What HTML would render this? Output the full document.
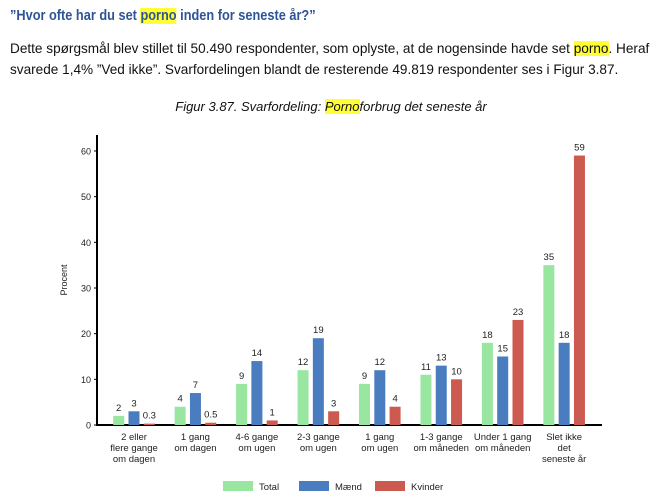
<!DOCTYPE html>
<html><head><meta charset="utf-8"><style>
body{margin:0;width:662px;height:496px;background:#fff;position:relative;overflow:hidden;font-family:"Liberation Sans",sans-serif}
.hl{background:#ffff33}
#h{position:absolute;left:10px;top:8px;font-size:14.5px;font-weight:bold;color:#2f5496;white-space:nowrap;transform:scaleX(0.88);transform-origin:0 0}
#p{position:absolute;left:10px;top:38px;font-size:13.6px;line-height:21px;color:#111;white-space:nowrap}
#cap{position:absolute;left:0;width:662px;top:99px;text-align:center;font-style:italic;font-size:13px;color:#111}
</style></head><body>
<div id="h">”Hvor ofte har du set <span class="hl">porno</span> inden for seneste år?”</div>
<div id="p">Dette spørgsmål blev stillet til 50.490 respondenter, som oplyste, at de nogensinde havde set <span class="hl">porno</span>. Heraf<br>svarede 1,4% ”Ved ikke”. Svarfordelingen blandt de resterende 49.819 respondenter ses i Figur 3.87.</div>
<div id="cap">Figur 3.87. Svarfordeling: <span class="hl">Porno</span>forbrug det seneste år</div>
<svg id="chart" width="662" height="496" style="position:absolute;left:0;top:0"></svg>
<script>
const categories=[["2 eller","flere gange","om dagen"],["1 gang","om dagen"],["4-6 gange","om ugen"],["2-3 gange","om ugen"],["1 gang","om ugen"],["1-3 gange","om måneden"],["Under 1 gang","om måneden"],["Slet ikke","det","seneste år"]];
const totalValues=[2,4,9,12,9,11,18,35];
const maendValues=[3,7,14,19,12,13,15,18];
const kvinderValues=[0.3,0.5,1,3,4,10,23,59];
const valueLabels=[["2","4","9","12","9","11","18","35"],["3","7","14","19","12","13","15","18"],["0.3","0.5","1","3","4","10","23","59"]];
const yTicks=[0,10,20,30,40,50,60];
const seriesNames=["Total","Mænd","Kvinder"];
const colors=["#99e6a0","#4a7cc0","#cc5a50"];
const NS="http://www.w3.org/2000/svg";
const svg=document.getElementById('chart');
const y=v=>425-v*4.567;
const xc=i=>134+i*61.45;
function mk(t,a,txt){const e=document.createElementNS(NS,t);for(const k in a)e.setAttribute(k,a[k]);if(txt!=null)e.textContent=txt;svg.appendChild(e);return e;}
let e;
e=mk('line',{x1:97,y1:135,x2:97,y2:426,stroke:'#000','stroke-width':2});


e=mk('line',{x1:96,y1:425,x2:602,y2:425,stroke:'#000','stroke-width':2});


yTicks.forEach(t=>{
 mk('line',{x1:94,y1:y(t),x2:97,y2:y(t),stroke:'#000'});
 e=mk('text',{x:91,y:y(t)+3.5,'text-anchor':'end','font-size':9,fill:'#222'},t);
 
 
});
e=mk('text',{x:0,y:0,transform:'translate(67,280) rotate(-90)','text-anchor':'middle','font-size':9,fill:'#222'},'Procent');


const series=[totalValues,maendValues,kvinderValues];
categories.forEach((c,i)=>{
 series.forEach((s,k)=>{
  const cx=xc(i)+(k-1)*15.3;
  e=mk('rect',{x:cx-5.5,y:y(s[i]),width:11,height:425-y(s[i]),fill:colors[k]});
  
  
  e=mk('text',{x:cx,y:y(s[i])-5,'text-anchor':'middle','font-size':9.5,fill:'#222'},valueLabels[k][i]);
  
  
 });
 c.forEach((ln,j)=>{
  e=mk('text',{x:xc(i),y:440+j*11,'text-anchor':'middle','font-size':9.5,fill:'#222'},ln);
  
  
 });
});
const legX=[223,299,375];
seriesNames.forEach((n,k)=>{
 e=mk('rect',{x:legX[k],y:481,width:30,height:10,fill:colors[k]});
 
 
 e=mk('text',{x:legX[k]+36,y:490,'font-size':9.5,fill:'#222'},n);
 
 
});
</script>
</body></html>
